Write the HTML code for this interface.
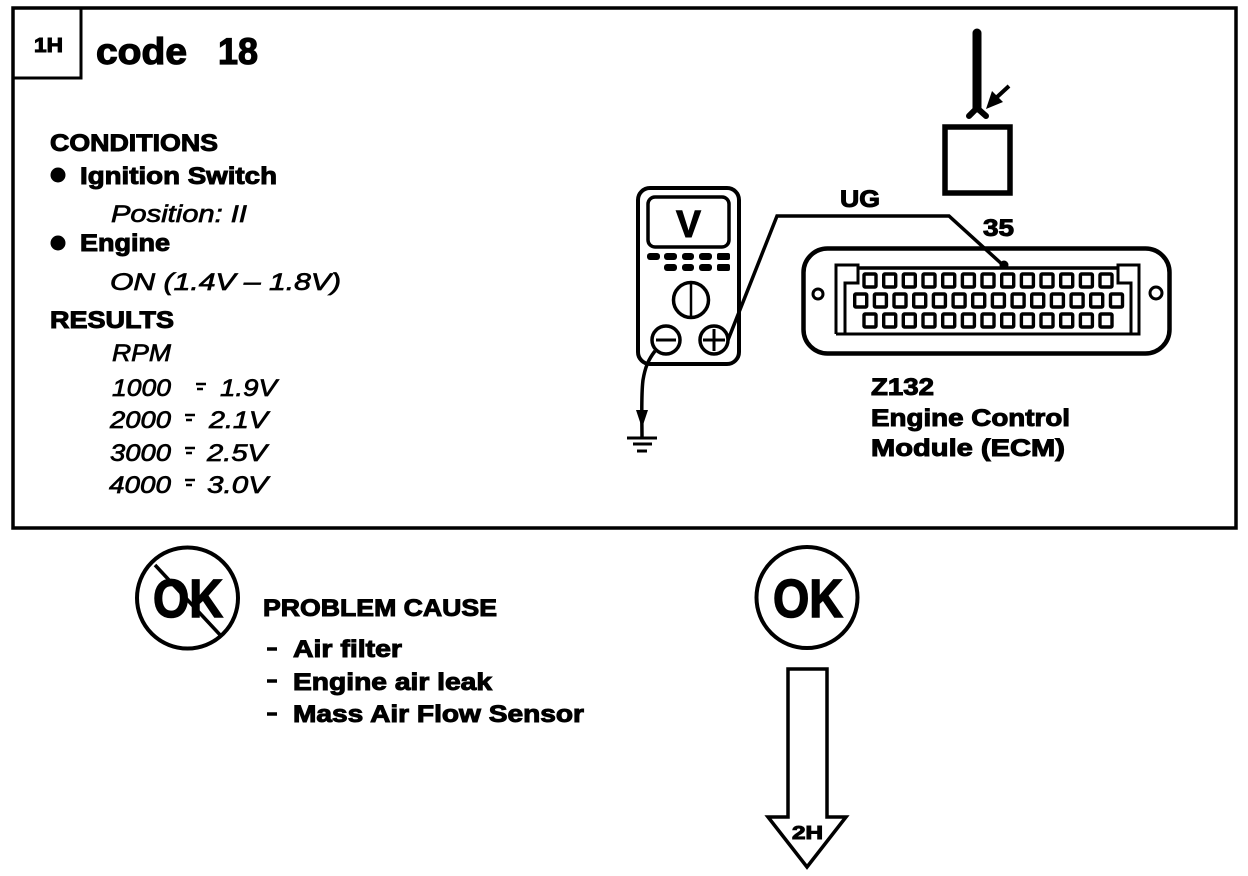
<!DOCTYPE html>
<html>
<head>
<meta charset="utf-8">
<title>code 18</title>
<style>
html,body{margin:0;padding:0;background:#fff;width:1248px;height:876px;overflow:hidden}
svg{display:block}
text{font-family:"Liberation Sans",Arial,sans-serif;fill:#000;stroke:#000}
.b{font-weight:bold;font-size:24px;stroke-width:1px}
.i{font-style:italic;font-size:24px;stroke-width:.7px}
.n{fill:none;stroke:#000}
</style>
</head>
<body>
<svg xmlns="http://www.w3.org/2000/svg" width="1248" height="876" viewBox="0 0 1248 876">
<defs>
<g id="row" fill="none" stroke="#000" stroke-width="3.4">
<rect x="864" y="0" width="12" height="13" rx="1"/><rect x="883.7" y="0" width="12" height="13" rx="1"/><rect x="903.3" y="0" width="12" height="13" rx="1"/><rect x="923" y="0" width="12" height="13" rx="1"/><rect x="942.7" y="0" width="12" height="13" rx="1"/><rect x="962.4" y="0" width="12" height="13" rx="1"/><rect x="982" y="0" width="12" height="13" rx="1"/><rect x="1001.7" y="0" width="12" height="13" rx="1"/><rect x="1021.4" y="0" width="12" height="13" rx="1"/><rect x="1041" y="0" width="12" height="13" rx="1"/><rect x="1060.7" y="0" width="12" height="13" rx="1"/><rect x="1080.4" y="0" width="12" height="13" rx="1"/><rect x="1100" y="0" width="12" height="13" rx="1"/>
</g>
</defs>

<!-- frame -->
<rect x="13" y="8" width="1223" height="520" class="n" stroke-width="3.5"/>
<path d="M14 78H81V9" class="n" stroke-width="3"/>
<text x="34" y="52" class="b" style="font-size:20px" textLength="29" lengthAdjust="spacingAndGlyphs">1H</text>
<text x="96" y="64" class="b" style="font-size:37px;stroke-width:1.2px" textLength="91" lengthAdjust="spacingAndGlyphs">code</text>
<text x="218" y="64" class="b" style="font-size:37px;stroke-width:1.2px" textLength="40" lengthAdjust="spacingAndGlyphs">18</text>

<!-- left text -->
<text x="50" y="151" class="b" textLength="168" lengthAdjust="spacingAndGlyphs">CONDITIONS</text>
<circle cx="58" cy="175" r="7.500"/>
<text x="80" y="184" class="b" textLength="197" lengthAdjust="spacingAndGlyphs">Ignition Switch</text>
<text x="111" y="222" class="i" textLength="136" lengthAdjust="spacingAndGlyphs">Position: II</text>
<circle cx="58" cy="243" r="7.500"/>
<text x="80" y="251" class="b" textLength="90" lengthAdjust="spacingAndGlyphs">Engine</text>
<text x="110" y="290" class="i" textLength="231" lengthAdjust="spacingAndGlyphs">ON (1.4V – 1.8V)</text>
<text x="50" y="328" class="b" textLength="124" lengthAdjust="spacingAndGlyphs">RESULTS</text>
<text x="112" y="361" class="i" textLength="59" lengthAdjust="spacingAndGlyphs">RPM</text>
<text x="112" y="396" class="i" textLength="59" lengthAdjust="spacingAndGlyphs">1000</text>
<text x="220" y="396" class="i" textLength="57" lengthAdjust="spacingAndGlyphs">1.9V</text>
<text x="110" y="428" class="i" textLength="61" lengthAdjust="spacingAndGlyphs">2000</text>
<text x="209" y="428" class="i" textLength="59" lengthAdjust="spacingAndGlyphs">2.1V</text>
<text x="110" y="461" class="i" textLength="61" lengthAdjust="spacingAndGlyphs">3000</text>
<text x="207" y="461" class="i" textLength="60" lengthAdjust="spacingAndGlyphs">2.5V</text>
<text x="109" y="493" class="i" textLength="62" lengthAdjust="spacingAndGlyphs">4000</text>
<text x="207" y="493" class="i" textLength="61" lengthAdjust="spacingAndGlyphs">3.0V</text>
<g stroke="#000" stroke-width="2.4" fill="none">
<path d="M196 384H206M197 389H203"/>
<path d="M185 415H195M186 420H192"/>
<path d="M185 448H195M186 453H192"/>
<path d="M185 480H195M186 485H192"/>
</g>

<!-- sensor -->
<path d="M977 33V108" class="n" stroke-width="9" stroke-linecap="round"/>
<path d="M969 116L977 108L986 116" class="n" stroke-width="6" stroke-linecap="round"/>
<path d="M1009 86L996 98" class="n" stroke-width="4"/>
<path d="M986 109L992 91L1003 102Z"/>
<rect x="945" y="127" width="65" height="66" class="n" stroke-width="5.500"/>

<!-- meter -->
<rect x="638" y="188" width="101" height="176" rx="12" class="n" stroke-width="4"/>
<rect x="648" y="197" width="81" height="50" rx="7" class="n" stroke-width="3.500"/>
<text x="676" y="237" style="font-size:38px;font-weight:bold;stroke-width:1px" textLength="25" lengthAdjust="spacingAndGlyphs">V</text>
<g>
<rect x="647" y="253" width="13" height="7" rx="3"/><rect x="664" y="253" width="13" height="7" rx="3"/><rect x="682" y="253" width="12" height="7" rx="3"/><rect x="699" y="253" width="13" height="7" rx="3"/><rect x="717" y="253" width="13" height="7" rx="2"/>
<rect x="664" y="264" width="13" height="7" rx="3"/><rect x="682" y="264" width="12" height="7" rx="3"/><rect x="699" y="264" width="13" height="7" rx="3"/><rect x="717" y="264" width="13" height="7" rx="2"/>
</g>
<circle cx="691" cy="300" r="17.500" class="n" stroke-width="3.500"/>
<path d="M691 283V317" class="n" stroke-width="2.500"/>
<circle cx="666" cy="340" r="14" class="n" stroke-width="3.500"/>
<path d="M656 340H676" class="n" stroke-width="3"/>
<circle cx="714" cy="340" r="14" class="n" stroke-width="3.500"/>
<path d="M703 340H725M714 329V351" class="n" stroke-width="3"/>

<!-- wires -->
<path d="M728 340L777 216H949L1004 266" class="n" stroke-width="3.500"/>
<circle cx="1004" cy="265" r="4.500"/>
<path d="M655 351C648 360 645 368 643 380C641 395 642 420 642 438" class="n" stroke-width="3.500"/>
<path d="M636 410H648L642 428Z"/>
<path d="M627 438H657M633 444H652M637 451H647" class="n" stroke-width="3"/>

<!-- connector -->
<rect x="803.500" y="248.500" width="366" height="105" rx="24" class="n" stroke-width="4.500"/>
<path d="M836 334V265H858V283H845V334M836 334H1139V265H1118V283H1131V334" class="n" stroke-width="3"/>
<path d="M858 268H1118" class="n" stroke-width="3.500"/>
<circle cx="818" cy="294" r="5" class="n" stroke-width="3"/>
<circle cx="1156" cy="293" r="6" class="n" stroke-width="3"/>
<use href="#row" y="274"/>
<use href="#row" x="-9.300" y="294"/>
<rect x="1110.500" y="294" width="12" height="13" rx="1" class="n" stroke-width="3.400"/>
<use href="#row" y="314"/>

<text x="840" y="207" class="b" textLength="40" lengthAdjust="spacingAndGlyphs">UG</text>
<text x="983" y="236" class="b" textLength="31" lengthAdjust="spacingAndGlyphs">35</text>
<text x="871" y="395" class="b" textLength="63" lengthAdjust="spacingAndGlyphs">Z132</text>
<text x="871" y="426" class="b" textLength="199" lengthAdjust="spacingAndGlyphs">Engine Control</text>
<text x="871" y="456" class="b" textLength="194" lengthAdjust="spacingAndGlyphs">Module (ECM)</text>

<!-- not OK -->
<circle cx="187.500" cy="598" r="50.500" class="n" stroke-width="4"/>
<text x="153" y="617" style="font-size:54px;font-weight:bold;stroke-width:1.5px" textLength="70" lengthAdjust="spacingAndGlyphs">OK</text>
<path d="M155 565L222 637" class="n" stroke-width="3.500"/>

<text x="263" y="616" class="b" textLength="234" lengthAdjust="spacingAndGlyphs">PROBLEM CAUSE</text>
<path d="M267 649H277M267 681H277M267 714H277" class="n" stroke-width="3.500"/>
<text x="293" y="657" class="b" textLength="109" lengthAdjust="spacingAndGlyphs">Air filter</text>
<text x="293" y="690" class="b" textLength="199" lengthAdjust="spacingAndGlyphs">Engine air leak</text>
<text x="293" y="722" class="b" textLength="291" lengthAdjust="spacingAndGlyphs">Mass Air Flow Sensor</text>

<!-- OK -->
<circle cx="807" cy="597.500" r="50.500" class="n" stroke-width="4"/>
<text x="773" y="617" style="font-size:54px;font-weight:bold;stroke-width:1.5px" textLength="70" lengthAdjust="spacingAndGlyphs">OK</text>

<!-- arrow -->
<path d="M788 817V669H827V817H846L807 867L768 817Z" class="n" stroke-width="3.500"/>
<text x="792" y="839" class="b" style="font-size:18px" textLength="31" lengthAdjust="spacingAndGlyphs">2H</text>
</svg>
</body>
</html>
